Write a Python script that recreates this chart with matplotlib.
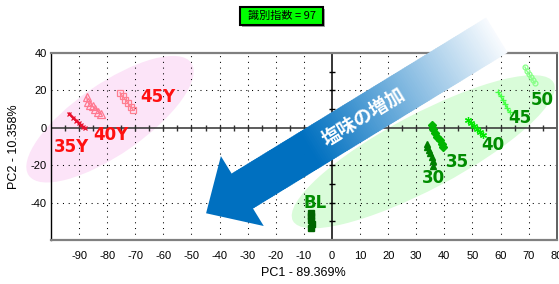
"""PCA score plot with two group ellipses and a gradient arrow."""
import matplotlib

matplotlib.use("Agg")  # headless
import matplotlib.pyplot as plt  # noqa: E402
import numpy as np  # noqa: E402
from matplotlib import transforms  # noqa: E402
from matplotlib.collections import PolyCollection  # noqa: E402
from matplotlib.colors import to_rgb  # noqa: E402
from matplotlib.patches import Ellipse, Polygon, Rectangle  # noqa: E402

plt.rcParams.update({
    "font.family": ["Liberation Sans", "DejaVu Sans"],
    "axes.unicode_minus": False,
    "font.size": 8,
})
JP = ["Noto Sans CJK JP", "DejaVu Sans"]

# ---- data ---------------------------------------------------------------
X_TICKS = list(range(-90, 81, 10))
Y_TICKS = [-40, -20, 0, 20, 40]
TITLE = "識別指数 = 97"
X_LABEL = "PC1 - 89.369%"
Y_LABEL = "PC2 - 10.358%"
ARROW_TEXT = "塩味の増加"

y35_x = [-93.5, -92.2, -91.0, -90.0, -89.2, -88.5, -88.0]
y35_y = [7.5, 5.5, 3.8, 2.5, 1.3, 0.4, -0.3]
y40_x = [-87.3, -87.0, -86.2, -85.2, -84.2, -83.2, -82.2]
y40_y = [16.5, 14.0, 12.2, 11.5, 10.2, 8.6, 7.3]
y45_x = [-75.4, -74.5, -73.5, -72.5, -71.6, -70.7]
y45_y = [18.7, 16.8, 15.0, 13.0, 11.2, 9.4]

bl_x = [-7.6, -7.3, -7.5, -7.2, -7.4]
bl_y = [-45.5, -47.0, -49.5, -51.5, -53.5]
g30_x = [33.8, 34.0, 34.4, 35.0, 35.5, 35.8, 35.9]
g30_y = [-8.4, -10.0, -12.0, -13.5, -15.5, -17.5, -20.3]
g35_x = [35.5, 36.0, 36.7, 37.5, 38.5, 39.2, 39.7]
g35_y = [1.4, -0.8, -3.0, -4.8, -6.6, -8.5, -10.2]
g40_x = [48.6, 49.6, 50.6, 51.6, 52.8, 53.9]
g40_y = [4.1, 2.6, 1.0, -0.5, -2.2, -3.9]
g45_x = [59.2, 60.0, 60.8, 61.6, 62.4, 63.2]
g45_y = [19.2, 17.0, 14.9, 12.8, 10.6, 8.5]
g50_x = [68.7, 69.3, 70.0, 70.7, 71.5, 72.2]
g50_y = [32.5, 30.6, 28.9, 27.2, 25.4, 23.7]

# label text and anchor (data coords)
red_labels = [("35Y", -92.7, -10.3), ("40Y", -78.6, -3.9), ("45Y", -62.0, 16.4)]
green_labels = [("BL", -6.0, -40.3), ("30", 36.1, -26.8), ("35", 44.5, -18.1),
                ("40", 57.4, -9.2), ("45", 66.9, 5.0), ("50", 74.7, 14.8)]

# ---- styles -------------------------------------------------------------
RED = "#ff1010"
GREEN = "#008c00"
C_PINK = "#fce4f8"
C_LGREEN = "#d9fcd9"
C_ARROW = "#0070c0"

series = [
    (y35_x, y35_y, dict(color="#e8102e", marker="x", ms=3.5, mew=0.9, lw=1.8)),
    (y40_x, y40_y, dict(color="#ff7890", marker="^", ms=5.5, mfc="none", mew=0.9, lw=1)),
    (y45_x, y45_y, dict(color="#ff7f90", marker="s", ms=4, mfc="none", mew=0.9, lw=1)),
    (bl_x, bl_y, dict(color="#006400", marker="s", ms=4.5, lw=1)),
    (g30_x, g30_y, dict(color="#008000", marker="^", ms=5, lw=1)),
    (g35_x, g35_y, dict(color="#00b400", marker="D", ms=4, lw=1)),
    (g40_x, g40_y, dict(color="#00e600", marker=(6, 2, 0), ms=5, mew=0.9, lw=1)),
    (g45_x, g45_y, dict(color="#44ff44", marker="+", ms=5, mew=0.9, lw=1)),
    (g50_x, g50_y, dict(color="#88ff88", marker="o", ms=3.5, mfc="none", mew=0.9, lw=1)),
]


def pixel_ellipse(ax, cx, cy, w, h, angle, color):
    """Ellipse sized in pixels, centred on a data point."""
    tr = transforms.ScaledTranslation(cx, cy, ax.transData)
    ax.add_patch(Ellipse((0, 0), w, h, angle=angle, transform=tr, fc=color,
                         ec="none", clip_on=False, zorder=0.3))


def gradient_arrow(ax, tip, length, angle, shaft_w, head_w, head_len, text):
    base = (transforms.Affine2D().rotate_deg(angle)
            + transforms.ScaledTranslation(tip[0], tip[1], ax.transData))
    ax.add_patch(Polygon([(0, 0), (head_len, head_w / 2), (head_len, -head_w / 2)],
                         closed=True, fc=C_ARROW, ec="none", transform=base,
                         clip_on=False, zorder=4))
    c0 = np.array(to_rgb(C_ARROW))
    c1 = np.array(to_rgb("#f8fbfe"))
    n = 140
    us = np.linspace(head_len - 1, length, n + 1)
    polys, cols = [], []
    for i in range(n):
        u0, u1 = us[i], min(us[i + 1] + 1.0, length)
        t = 0.5 * (u0 + u1) / length
        f = np.clip((t - 0.36) / 0.64, 0, 1)
        cols.append(c0 * (1 - f) + c1 * f)
        polys.append([(u0, -shaft_w / 2), (u1, -shaft_w / 2),
                      (u1, shaft_w / 2), (u0, shaft_w / 2)])
    ax.add_collection(PolyCollection(polys, facecolors=cols, edgecolors="none",
                                     transform=base, clip_on=False, zorder=4))
    ttr = transforms.Affine2D().translate(length * 0.54, 0) + base
    ax.text(0, 0, text, transform=ttr, rotation=angle, rotation_mode="anchor",
            ha="center", va="center", color="white", fontsize=13.5,
            fontweight="bold", family=JP, zorder=5, clip_on=False)


fig = plt.figure(figsize=(5.59, 2.84), dpi=100)
ax = fig.add_axes([51 / 559, 1 - 240 / 284, 505.7 / 559, 187 / 284])
ax.set_xlim(-100, 80)
ax.set_ylim(-60, 40)

# group ellipses
pixel_ellipse(ax, -79.0, 4.6, 197.6, 70.6, 34.7, C_PINK)
pixel_ellipse(ax, 32.5, -12.8, 295, 75, 27.9, C_LGREEN)

# dotted grid + solid zero axes with small ticks
for x in X_TICKS:
    if x not in (0, 80):
        ax.axvline(x, color="black", lw=0.75, ls=(0, (1, 4.5)), zorder=1)
for y in Y_TICKS:
    if y not in (0, 40):
        ax.axhline(y, color="black", lw=0.75, ls=(0, (1, 4.5)), zorder=1)
ax.axhline(0, color="#303030", lw=1.1, zorder=1.5)
ax.axvline(0, color="black", lw=1.1, zorder=1.5)
xt = [v for v in range(-95, 80, 5) if v != 0]
ax.plot(xt, [0] * len(xt), ls="none", marker="|", ms=4.5, mew=1, color="#303030", zorder=1.5)
yt = [v for v in range(-50, 40, 10) if v != 0]
ax.plot([0] * len(yt), yt, ls="none", marker="_", ms=4.5, mew=1, color="black", zorder=1.5)

for xs, ys, st in series:
    ax.plot(xs, ys, zorder=3, **st)

for txt, x, y in red_labels:
    ax.text(x, y, txt, color=RED, fontsize=12, fontweight="bold", ha="center",
            va="center", family="DejaVu Sans", zorder=3.5)
for txt, x, y in green_labels:
    ax.text(x, y, txt, color=GREEN, fontsize=12, fontweight="bold", ha="center",
            va="center", family="DejaVu Sans", zorder=3.5)

gradient_arrow(ax, (-44.8, -45.7), 341, 31.5, 41, 82, 42.5, ARROW_TEXT)

ax.set_xticks(X_TICKS)
ax.set_yticks(Y_TICKS)
ax.tick_params(axis="both", length=0, labelsize=8)
ax.tick_params(axis="x", pad=8)
ax.tick_params(axis="y", pad=3)
ax.set_xlabel(X_LABEL, fontsize=9, labelpad=4)
ax.set_ylabel(Y_LABEL, fontsize=9, labelpad=8)

for side, col, lw in [("top", "#808080", 1.6), ("bottom", "#808080", 1.6),
                      ("left", "black", 1.0), ("right", "#606060", 1.4)]:
    ax.spines[side].set_color(col)
    ax.spines[side].set_linewidth(lw)

# title box with shadow
fig.patches.append(Rectangle((242 / 559, 1 - 27 / 284), 83 / 559, 18 / 284,
                             transform=fig.transFigure, fc="#a0a0a0", ec="none"))
fig.patches.append(Rectangle((240 / 559, 1 - 25 / 284), 83 / 559, 18 / 284,
                             transform=fig.transFigure, fc="#00ff00", ec="black", lw=1.5))
fig.text(281.5 / 559, 1 - 16 / 284, TITLE, ha="center", va="center",
         fontsize=8, family=JP)

fig.savefig("out.png", dpi=100)
